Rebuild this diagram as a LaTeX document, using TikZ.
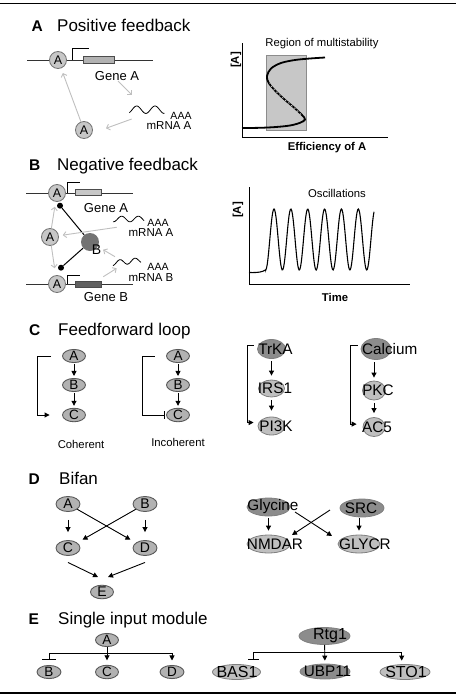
\documentclass[tikz,border=0pt]{standalone}
\usepackage{fontspec}
\setmainfont{Liberation Sans}
\usetikzlibrary{arrows.meta,shapes.geometric}
\newcommand{\myfs}[1]{\fontsize{#1}{#1}\selectfont}
\begin{document}
\begin{tikzpicture}[x=1pt,y=-1pt,
 ttl/.style={anchor=base west,inner sep=0,font=\myfs{17}},
 sec/.style={anchor=base west,inner sep=0,font=\myfs{15.5}\bfseries},
 frame/.style={draw=black,line width=1.6pt},
 dna/.style={draw=black!80,line width=0.9pt},
 prom/.style={draw=black,line width=0.8pt},
 gbox/.style={rectangle,draw=black!70,line width=0.7pt,inner sep=0},
 acirc/.style={circle,draw=black!55,fill=black!22,line width=0.8pt,minimum size=17,inner sep=0,font=\myfs{12.5}},
 garr/.style={draw=black!25,line width=0.9pt,-{Straight Barb[length=3pt,width=6pt]}},
 barr/.style={draw=black,line width=0.9pt,-{Triangle[length=5pt,width=5pt]}},
 tbar/.style={draw=black,line width=0.9pt,-{Bar[width=8pt]}},
 iline/.style={draw=black,line width=1pt},
 lell/.style={ellipse,draw=black!65,fill=black!30,line width=0.9pt,minimum width=23,minimum height=13,inner sep=0,font=\myfs{13.5}},
 prot/.style={ellipse,inner sep=0,draw=black!50,line width=0.8pt},
 dk/.style={prot,fill=black!45},
 lt/.style={prot,fill=black!25},
 ptxt/.style={font=\myfs{15.3},inner sep=0},
 etxt/.style={font=\myfs{16},inner sep=0},
 axis/.style={draw=black,line width=0.9pt},
 wave/.style={draw=black,line width=0.8pt},
 gtxt/.style={font=\myfs{13}},
 mtxt/.style={font=\myfs{11.5},inner sep=1pt},
 aaa/.style={font=\myfs{10.5},inner sep=1pt},
 small/.style={font=\myfs{11.3}},
 bsmall/.style={font=\myfs{11.3}\bfseries},
 scurve/.style={draw=black,line width=1.8pt},
 osc/.style={draw=black,line width=1.1pt}
]
\useasboundingbox (0,0) rectangle (456,696);
% frame lines
\coordinate (ft1) at (0,3.5); \coordinate (ft2) at (456,3.5);
\coordinate (fb1) at (0,693); \coordinate (fb2) at (456,693);
\draw[frame] (ft1) -- (ft2);
\draw[frame] (fb1) -- (fb2);

% ================= A =================
\node[sec] (secA) at (31.5,31) {A};
\node[ttl] (titA) at (57,31) {Positive feedback};
\coordinate (dA1) at (27,60); \coordinate (dA2) at (153,60);
\draw[dna] (dA1) -- (dA2);
\node[gbox,fill=black!30,minimum width=31,minimum height=7] (gboxA) at (98.5,59.5) {};
\coordinate (pA1) at (72,60); \coordinate (pA2) at (72,48); \coordinate (pA3) at (89,48);
\draw[prom] (pA1) -- (pA2) -- (pA3);
\node[acirc] (A1) at (58,60) {A};
\node[gtxt] (geneAt) at (117,76) {Gene A};
\coordinate (gA1) at (118,81); \coordinate (gA2) at (132,95);
\draw[garr] (gA1) -- (gA2);
\draw[wave] plot[domain=129.3:164.3,samples=60] ({\x},{109.7-3.7*sin((\x-136.7)*19.672+90)});
\node[aaa] (aaaA) at (181,115.5) {AAA};
\node[mtxt] (mrnaA) at (169,126) {mRNA A};
\node[acirc] (A2) at (84,130) {A};
\coordinate (mA1) at (131.7,119); \coordinate (mA2) at (106,128.3);
\draw[garr] (mA1) -- (mA2);
\draw[garr,shorten >=5pt] (A2) -- (A1);

% graph A
\coordinate (axA0) at (242,137); \coordinate (axAy) at (242,43); \coordinate (axAx) at (388,137);
\node[rectangle,draw=black!45,fill=black!22,line width=0.6pt,minimum width=40,minimum height=75,inner sep=0] (region) at (286,92.5) {};
\draw[axis] (axAy) -- (axA0) -- (axAx);
\draw[scurve] plot[smooth,tension=0.55] coordinates {(242,128) (260,127.8) (276,127) (290,125.5) (300,122.8) (305,119.5) (302,115) (294,107.5) (284,99) (275,90.5) (268.5,82.5) (267,76) (271,68.5) (281,63) (295,60) (310,58.5) (325,57.5)};
\draw[white,line width=0.5pt,dash pattern=on 1.5pt off 2.5pt] plot[smooth,tension=0.55] coordinates {(301,114.5) (294,107.5) (284,99) (275,90.5) (269.5,83.5)};
\node[small] (regtxt) at (322,44) {Region of multistability};
\node[rotate=90,bsmall] (ylabA) at (236,60) {[A]};
\node[bsmall] (xlabA) at (327,148) {Efficiency of A};

% ================= B =================
\node[sec] (secB) at (29,170.7) {B};
\node[ttl] (titB) at (57,170.7) {Negative feedback};
\coordinate (dB1) at (26,193); \coordinate (dB2) at (133,193);
\draw[dna] (dB1) -- (dB2);
\coordinate (pB1) at (67,193); \coordinate (pB2) at (67,182); \coordinate (pB3) at (80,182);
\draw[prom] (pB1) -- (pB2) -- (pB3);
\node[gbox,fill=black!22,minimum width=26,minimum height=6] (gboxBA) at (88,192.5) {};
\node[acirc] (BA1) at (57,193) {A};
\node[gtxt] (geneBAt) at (106,208) {Gene A};

\coordinate (dB3) at (26,284); \coordinate (dB4) at (133,284);
\draw[dna] (dB3) -- (dB4);
\coordinate (pB4) at (67,284); \coordinate (pB5) at (67,275); \coordinate (pB6) at (80,275);
\draw[prom] (pB4) -- (pB5) -- (pB6);
\node[gbox,fill=black!62,minimum width=26,minimum height=6] (gboxBB) at (88,284.5) {};
\node[acirc] (BA3) at (57,284) {A};
\node[gtxt] (geneBBt) at (106,297) {Gene B};

\node[acirc] (BA2) at (50,237) {A};
\node[circle,fill=black!55,minimum size=18,inner sep=0] (Bp) at (90,242) {};
\node[font=\myfs{14},inner sep=0] (Btxt) at (96.5,250) {B};
\node[circle,fill=black,minimum size=6,inner sep=0] (dot1) at (60,205.7) {};
\node[circle,fill=black,minimum size=6,inner sep=0] (dot2) at (61,267.7) {};
\draw[iline] (Bp) -- (dot1);
\draw[iline] (Bp) -- (dot2);

\draw[wave] plot[domain=113:144,samples=60] ({\x},{219-2.8*sin((\x-121.7)*21.687+90)});
\node[aaa] (aaaBA) at (158,222.5) {AAA};
\node[mtxt] (mrnaBA) at (151,232.5) {mRNA A};
\draw[wave] plot[domain=113:141,samples=60] ({\x},{263-0.1*(\x-113)-2.6*sin((\x-120)*24+90)});
\node[aaa] (aaaBB) at (158,267) {AAA};
\node[mtxt] (mrnaBB) at (151,277.5) {mRNA B};

\coordinate (mBA) at (116.7,227.3);
\draw[garr,shorten >=4pt] (mBA) -- (BA2);
\draw[garr,shorten >=5pt] (BA2) -- (BA1);
\draw[garr,shorten >=7pt] (BA2) -- (BA3);
\coordinate (gB1) at (103.3,276.7); \coordinate (gB2) at (116.7,268.3);
\draw[garr] (gB1) -- (gB2);
\coordinate (mBB) at (115,256.7);
\draw[garr,shorten >=6pt] (mBB) -- (Bp);

% graph B
\coordinate (axB0) at (249,284); \coordinate (axBy) at (249,187); \coordinate (axBx) at (410,284);
\draw[axis] (axBy) -- (axB0) -- (axBx);
\coordinate (oB0) at (249,272.5);
\draw[osc] (oB0) .. controls (259,272.8) and (262,272) .. (265.85,269.8) -- plot[domain=265.85:374,samples=160] ({\x},{239.5-30.5*cos((\x-274)*21.352)});
\node[small] (osctxt) at (337,193) {Oscillations};
\node[rotate=90,bsmall] (ylabB) at (238,210) {[A]};
\node[bsmall] (xlabB) at (335,297) {Time};

% ================= C =================
\node[sec] (secC) at (29,335.7) {C};
\node[ttl] (titC) at (58,335.7) {Feedforward loop};
\node[lell] (cA) at (74,356) {A};
\node[lell] (cB) at (74,385) {B};
\node[lell] (cC) at (74,415) {C};
\draw[barr,shorten <=1pt,shorten >=2pt] (cA) -- (cB);
\draw[barr,shorten <=1pt,shorten >=2pt] (cB) -- (cC);
\draw[barr,shorten <=11pt,shorten >=12.5pt] (cA.west) -- ++(-24.2,0) |- (cC.west);
\node[small] (coh) at (81,444) {Coherent};

\node[lell] (iA) at (178,356) {A};
\node[lell] (iB) at (178,385) {B};
\node[lell] (iC) at (178,415) {C};
\draw[barr,shorten <=1pt,shorten >=2pt] (iA) -- (iB);
\draw[barr,shorten <=1pt,shorten >=2pt] (iB) -- (iC);
\draw[tbar,shorten <=11.5pt,shorten >=1pt] (iA.west) -- ++(-23.7,0) |- (iC.west);
\node[small] (incoh) at (178,442) {Incoherent};

\node[dk,minimum width=28,minimum height=19,label={[ptxt,xshift=4]center:TrKA}] (trka) at (271.5,349) {};
\node[lt,minimum width=26,minimum height=17,label={[ptxt,xshift=3.5]center:IRS1}] (irs1) at (271.5,388.5) {};
\node[lt,minimum width=27,minimum height=18,label={[ptxt,xshift=4.5]center:PI3K}] (pi3k) at (271.5,426) {};
\draw[barr,shorten <=2.5pt,shorten >=4pt] (trka) -- (irs1);
\draw[barr,shorten <=2.5pt,shorten >=6pt] (irs1) -- (pi3k);
\draw[barr,shorten <=4.5pt,shorten >=5pt] (trka.165) -- ++(-10.5,0) |- (pi3k.165);

\node[dk,minimum width=30,minimum height=21,label={[ptxt,xshift=13.7]center:Calcium}] (calc) at (376,349) {};
\node[lt,minimum width=23,minimum height=19,label={[ptxt,xshift=4]center:PKC}] (pkc) at (374,390.5) {};
\node[lt,minimum width=22,minimum height=19,label={[ptxt,xshift=3]center:AC5}] (ac5) at (374,427) {};
\draw[barr,shorten <=2.5pt,shorten >=3pt] (pkc.north |- calc.south) -- (pkc.north);
\draw[barr,shorten <=2.5pt,shorten >=4pt] (pkc) -- (ac5);
\draw[barr,shorten <=4pt,shorten >=6.5pt] (calc.165) -- ++(-11,0) |- (ac5.165);

% ================= D =================
\node[sec] (secD) at (28.5,484.3) {D};
\node[ttl] (titD) at (59,484.3) {Bifan};
\node[lell,minimum width=24,minimum height=15,font=\myfs{14}] (dA) at (68,504) {A};
\node[lell,minimum width=24,minimum height=15,font=\myfs{14}] (dB) at (145,504) {B};
\node[lell,minimum width=24,minimum height=15,font=\myfs{14}] (dC) at (68,548) {C};
\node[lell,minimum width=24,minimum height=15,font=\myfs{14}] (dD) at (145,548) {D};
\node[lell,minimum width=23,minimum height=13,font=\myfs{14}] (dE) at (102,592) {E};
\draw[barr,shorten <=8pt,shorten >=8pt] (dA) -- (dC);
\draw[barr,shorten <=8pt,shorten >=8pt] (dB) -- (dD);
\draw[barr,shorten >=6pt] (dA) -- (dD);
\draw[barr,shorten >=6pt] (dB) -- (dC);
\coordinate (ceE) at (98,577); \coordinate (deE) at (108,577);
\draw[barr] (dC.south) ++(0,6.5) -- (ceE);
\draw[barr] (dD.south) ++(0,6.5) -- (deE);

\node[dk,minimum width=43,minimum height=18,label={[ptxt,xshift=4.5]center:Glycine}] (gly) at (268.5,507) {};
\node[dk,minimum width=44,minimum height=18,label={[ptxt,xshift=-1]center:SRC}] (src) at (362,508) {};
\node[lt,minimum width=43,minimum height=18,label={[ptxt,xshift=6.5]center:NMDAR}] (nmdar) at (268.5,544) {};
\node[lt,minimum width=42,minimum height=18,label={[ptxt,xshift=6]center:GLYCR}] (glycr) at (359,544) {};
\draw[barr,shorten <=2pt,shorten >=4pt] (gly) -- (nmdar);
\draw[barr,shorten <=1pt,shorten >=4pt] (glycr.north |- src.south) -- (glycr.north);
\coordinate (x1s) at (295,512); \coordinate (x1e) at (332,536);
\coordinate (x2s) at (330,510); \coordinate (x2e) at (292,535);
\draw[barr] (x1s) -- (x1e);
\draw[barr] (x2s) -- (x2e);

% ================= E =================
\node[sec] (secE) at (28.5,624.3) {E};
\node[ttl] (titE) at (58,624.3) {Single input module};
\node[lell] (eA) at (107,640) {A};
\node[lell,minimum width=24] (eB) at (49,672) {B};
\node[lell] (eC) at (107,672) {C};
\node[lell,minimum width=24] (eD) at (172,672) {D};
\coordinate (eL) at (49,653); \coordinate (eR) at (172,653);
\draw[iline,line width=0.9pt] (eL) -- (eR);
\draw[barr,shorten >=4.5pt] (eA) -- (eC);
\draw[barr,shorten >=4.5pt] (eR) -- (eD.north);
\draw[draw=black,line width=0.9pt,-{Bar[width=14pt]},shorten >=5.5pt] (eL) -- (eB.north);

\node[dk,minimum width=51,minimum height=17,label={[etxt,xshift=5.5]center:Rtg1}] (rtg1) at (324.5,636) {};
\node[lt,minimum width=48,minimum height=15,label={[etxt,xshift=0.5]center:BAS1}] (bas1) at (236.5,672) {};
\node[dk,minimum width=50,minimum height=15,label={[ptxt,xshift=2.5]center:UBP11}] (ubp11) at (325,671.5) {};
\node[lt,minimum width=50,minimum height=15,label={[etxt,xshift=1]center:STO1}] (sto1) at (405,672) {};
\coordinate (rL) at (253.3,652); \coordinate (rR) at (401.7,652);
\draw[iline,line width=0.9pt] (rL) -- (rR);
\draw[draw=black,line width=0.9pt,-{Bar[width=11pt]},shorten >=4.5pt] (rL) -- (rL |- bas1.north);
\draw[barr,shorten >=3pt] (rtg1) -- (ubp11);
\draw[barr,shorten >=3.5pt] (rR) -- (rR |- sto1.north);
\end{tikzpicture}
\end{document}
